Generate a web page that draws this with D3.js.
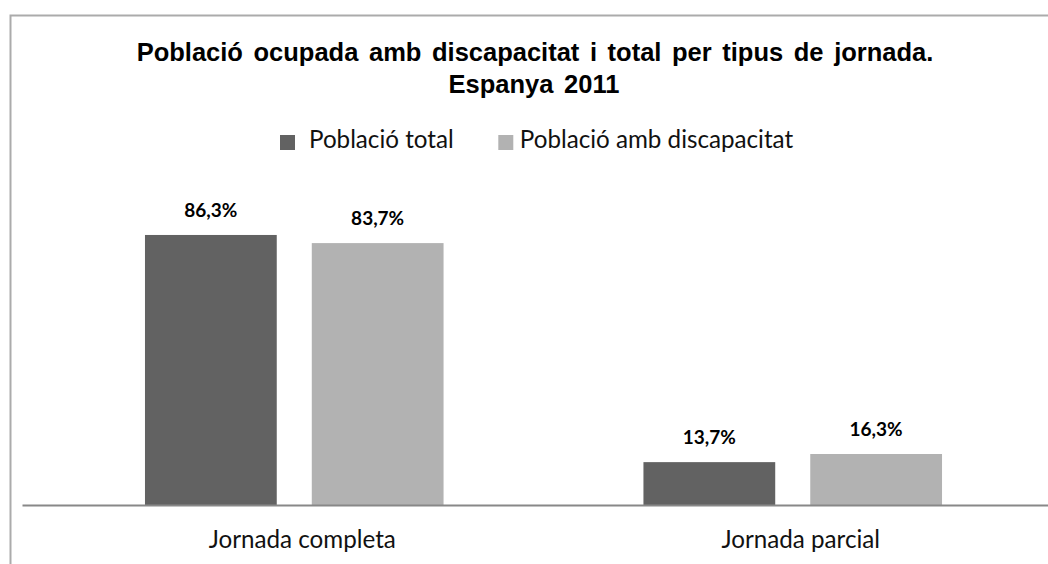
<!DOCTYPE html>
<html>
<head>
<meta charset="utf-8">
<script src="https://d3js.org/d3.v7.min.js"></script>
<title>Població ocupada amb discapacitat</title>
<style>
body { margin: 0; background: #fff; }
svg { display: block; }
.calib { font-family: Lato, "Open Sans", sans-serif; }
</style>
</head>
<body>
<svg width="1048" height="564"></svg>
<script>

// data
let categories = ["Jornada completa", "Jornada parcial"];
let seriesNames = ["Població total", "Població amb discapacitat"];
let valuesTotal = [86.3, 13.7];
let valuesDisc = [83.7, 16.3];
let seriesColors = ["#626262", "#b2b2b2"];

let width = 1048, height = 564;
let baseY = 505;

let svg = d3.select("svg");

// outer frame
svg.append("path")
  .attr("d", "M10.5,564 L10.5,15.5 L1048,15.5")
  .attr("fill", "none")
  .attr("stroke", "#ababab")
  .attr("stroke-width", 2);

// title
let title = svg.append("text")
  .attr("text-anchor", "middle")
  .attr("font-family", "'Liberation Sans', Arial, sans-serif")
  .attr("font-weight", "bold")
  .attr("font-size", 25.5)
  .attr("word-spacing", 3.5)
  .attr("fill", "#000");
title.append("tspan").attr("x", 535).attr("y", 60.5)
  .text("Població ocupada amb discapacitat i total per tipus de jornada.");
title.append("tspan").attr("x", 534).attr("y", 92.5)
  .text("Espanya 2011");

// scales
let x0 = d3.scaleBand()
  .domain(categories)
  .range([22, 1065])
  .paddingInner(0.401)
  .paddingOuter(0.2467);

let x1 = d3.scaleBand()
  .domain(seriesNames)
  .range([0, x0.bandwidth()])
  .paddingInner(0.21);

let y = d3.scaleLinear()
  .domain([0, 100])
  .range([baseY, baseY - 312.9]);

let rows = categories.map((c, i) => ({
  cat: c,
  vals: [
    {name: seriesNames[0], v: valuesTotal[i], color: seriesColors[0]},
    {name: seriesNames[1], v: valuesDisc[i], color: seriesColors[1]}
  ]
}));

let groups = svg.selectAll("g.cat")
  .data(rows)
  .enter().append("g")
  .attr("class", "cat")
  .attr("transform", d => "translate(" + x0(d.cat) + ",0)");

groups.selectAll("rect")
  .data(d => d.vals)
  .enter().append("rect")
  .attr("x", d => x1(d.name))
  .attr("y", d => y(d.v))
  .attr("width", x1.bandwidth())
  .attr("height", d => y(0) - y(d.v))
  .attr("fill", d => d.color);

// data labels
groups.selectAll("text.lbl")
  .data(d => d.vals)
  .enter().append("text")
  .attr("class", "lbl calib")
  .attr("x", d => x1(d.name) + x1.bandwidth() / 2)
  .attr("y", d => y(d.v) - 18)
  .attr("text-anchor", "middle")
  .attr("font-weight", "bold")
  .attr("font-size", 19)
  .attr("fill", "#000")
  .text(d => d3.format(".1f")(d.v).replace(".", ",") + "%");

// x axis
let xAxis = d3.axisBottom(x0).tickSize(0).tickPadding(0);
let axisG = svg.append("g")
  .attr("transform", "translate(0," + baseY + ")")
  .call(xAxis);
axisG.select(".domain").attr("stroke", "#888").attr("stroke-width", 2);
axisG.selectAll(".tick text")
  .attr("class", "calib")
  .attr("x", 8)
  .attr("y", 43)
  .attr("dy", null)
  .attr("font-size", 24.2)
  .attr("fill", "#111");

// legend
let legend = svg.append("g").attr("class", "calib");
let lx = 280;
seriesNames.forEach((name, i) => {
  let item = legend.append("g").attr("transform", "translate(" + lx + ",0)");
  item.append("rect")
    .attr("x", 0).attr("y", 135)
    .attr("width", 15).attr("height", 15)
    .attr("fill", seriesColors[i]);
  item.append("text")
    .attr("x", i === 0 ? 29 : 21.5)
    .attr("y", 148.3)
    .attr("font-size", 24.2)
    .attr("fill", "#111")
    .text(name);
  lx += 218.3;
});

</script>
</body>
</html>
